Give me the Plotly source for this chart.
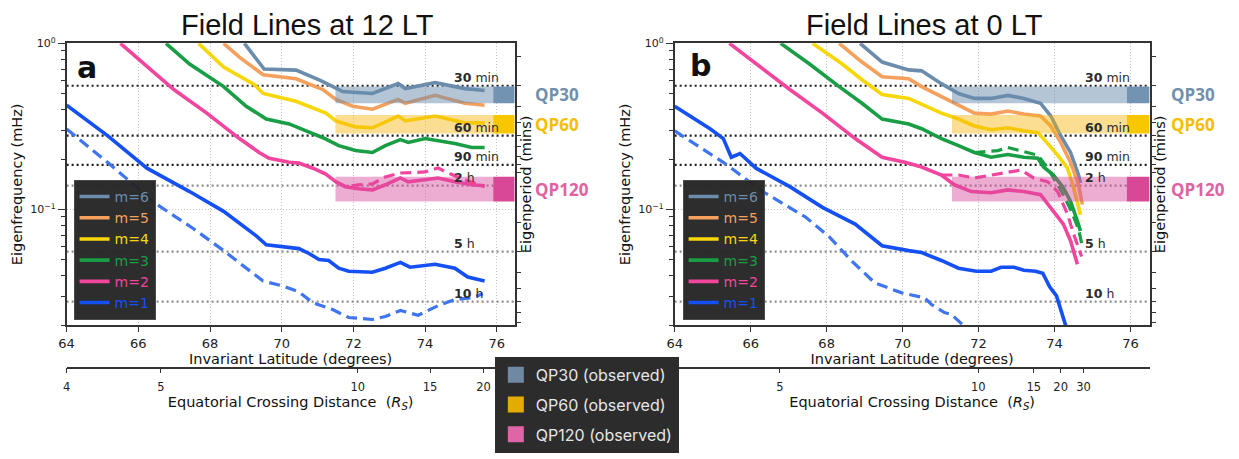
import numpy as np
import plotly.graph_objects as go

# ---------------------------------------------------------------- data
modes = [6, 5, 4, 3, 2, 1]
mode_colors = ["#6b8cab", "#f5a05c", "#f8d70a", "#1a9e45", "#f2459d", "#1550f5"]
m1_dash_color = "#3f74f2"

# ---- Field lines at 12 LT (panel a) : invariant latitude (deg) / eigenfrequency (mHz)
lat12_m6 = [68.96, 69.51, 70.40, 71.09, 71.70, 72.53, 73.25, 73.45, 74.28, 75.11, 75.66]
f12_m6 = [1.0, 0.70, 0.69, 0.596, 0.513, 0.499, 0.572, 0.534, 0.580, 0.534, 0.520]
lat12_m5 = [68.38, 68.82, 69.48, 70.40, 71.15, 71.51, 71.98, 72.53, 73.25, 73.45, 74.28, 75.11, 75.66]
f12_m5 = [1.0, 0.826, 0.647, 0.612, 0.527, 0.460, 0.418, 0.401, 0.460, 0.436, 0.486, 0.436, 0.424]
lat12_m4 = [67.68, 68.38, 69.24, 69.48, 70.40, 71.23, 71.51, 72.06, 72.53, 73.25, 73.45, 74.28, 75.11, 75.66]
f12_m4 = [1.0, 0.721, 0.564, 0.499, 0.448, 0.380, 0.341, 0.314, 0.310, 0.365, 0.341, 0.365, 0.332, 0.332]
lat12_m3 = [66.77, 67.43, 68.38, 69.01, 69.57, 70.21, 70.68, 71.15, 71.59, 72.06, 72.53, 72.89,
            73.31, 73.53, 74.0, 74.83, 75.30, 75.66]
f12_m3 = [1.0, 0.751, 0.549, 0.418, 0.350, 0.327, 0.297, 0.270, 0.242, 0.226, 0.220, 0.242,
          0.263, 0.253, 0.267, 0.249, 0.236, 0.236]
lat12_m2 = [65.50, 66.05, 66.99, 67.91, 68.82, 69.37, 69.65, 70.21, 70.48, 70.87, 71.23, 71.51,
            71.78, 72.14, 72.53, 72.89, 73.31, 73.53, 74.0, 74.36, 74.83, 75.30, 75.66]
f12_m2 = [1.0, 0.793, 0.527, 0.380, 0.267, 0.220, 0.203, 0.192, 0.190, 0.177, 0.163, 0.1465,
          0.137, 0.133, 0.131, 0.1406, 0.1546, 0.1465, 0.150, 0.1546, 0.1465, 0.1406, 0.1387]
lat12_m1 = [64.0, 65.14, 66.24, 67.43, 68.38, 69.29, 69.57, 70.04, 70.48, 70.76, 71.04, 71.31,
            71.59, 71.87, 72.53, 72.89, 73.31, 73.58, 74.28, 74.83, 75.19, 75.66]
f12_m1 = [0.424, 0.278, 0.177, 0.128, 0.0973, 0.0692, 0.0612, 0.0596, 0.0580, 0.0542, 0.0499, 0.0492,
          0.0442, 0.0424, 0.0418, 0.0442, 0.0479, 0.0448, 0.0467, 0.0442, 0.0391, 0.0370]
# dashed variants (12 LT)
lat12_m2d = [71.51, 71.78, 72.14, 72.53, 72.89, 73.31, 74.0, 74.36, 74.64, 75.11, 75.66]
f12_m2d = [0.1465, 0.137, 0.1406, 0.1425, 0.1567, 0.1656, 0.168, 0.1774, 0.1656, 0.1506, 0.137]
lat12_m1d = [64.0, 65.14, 66.52, 67.55, 68.38, 69.48, 70.04, 70.48, 70.87, 71.42, 71.87, 72.53,
             72.89, 73.31, 73.81, 74.36, 74.83, 75.30, 75.61]
f12_m1d = [0.305, 0.192, 0.107, 0.0762, 0.0564, 0.0370, 0.0345, 0.0318, 0.0274, 0.0249, 0.0223, 0.0217,
           0.0226, 0.0246, 0.0230, 0.0263, 0.0286, 0.0293, 0.0310]

# ---- Field lines at 0 LT (panel b)
lat0_m6 = [68.88, 69.46, 70.16, 70.50, 71.02, 71.47, 71.89, 72.33, 72.77, 73.19, 73.63, 73.90,
           74.16, 74.42, 74.63, 74.68]
f0_m6 = [1.0, 0.772, 0.692, 0.683, 0.572, 0.499, 0.466, 0.466, 0.486, 0.466, 0.436, 0.365,
         0.278, 0.220, 0.161, 0.1445]
lat0_m5 = [68.33, 68.93, 69.46, 70.16, 70.50, 71.02, 71.47, 71.89, 72.33, 72.77, 73.19, 73.63,
           73.90, 74.16, 74.42, 74.63, 74.73]
f0_m5 = [1.0, 0.772, 0.629, 0.612, 0.549, 0.479, 0.430, 0.380, 0.375, 0.391, 0.375, 0.365,
         0.318, 0.253, 0.192, 0.1406, 0.107]
lat0_m4 = [67.63, 68.41, 68.93, 69.46, 70.16, 70.50, 71.02, 71.47, 71.89, 72.33, 72.77, 73.19,
           73.56, 73.82, 74.08, 74.34, 74.50, 74.68]
f0_m4 = [1.0, 0.751, 0.604, 0.492, 0.466, 0.430, 0.380, 0.350, 0.318, 0.302, 0.310, 0.297,
         0.290, 0.249, 0.212, 0.177, 0.135, 0.0934]
lat0_m3 = [66.79, 67.55, 68.33, 68.93, 69.46, 70.16, 70.50, 71.02, 71.47, 71.89, 72.33, 72.77,
           73.19, 73.56, 73.71, 73.97, 74.23, 74.42, 74.60, 74.68]
f0_m3 = [1.0, 0.751, 0.549, 0.436, 0.350, 0.327, 0.306, 0.267, 0.242, 0.220, 0.206, 0.214,
         0.206, 0.203, 0.180, 0.161, 0.135, 0.1115, 0.0849, 0.0741]
lat0_m2 = [65.44, 66.14, 67.03, 67.89, 68.75, 69.46, 70.06, 70.50, 71.02, 71.36, 71.81, 72.33,
           72.77, 73.19, 73.63, 73.97, 74.23, 74.42, 74.60]
f0_m2 = [1.0, 0.751, 0.527, 0.380, 0.267, 0.206, 0.192, 0.180, 0.161, 0.1406, 0.128, 0.126,
         0.131, 0.128, 0.1227, 0.0973, 0.0815, 0.0647, 0.0467]
lat0_m1 = [64.0, 64.94, 65.28, 65.49, 65.72, 66.14, 67.03, 67.89, 68.75, 69.46, 70.16, 70.50,
           71.02, 71.47, 71.94, 72.33, 72.59, 72.93, 73.19, 73.50, 73.69, 73.87, 74.05, 74.29, 74.45]
f0_m1 = [0.418, 0.305, 0.267, 0.206, 0.217, 0.177, 0.137, 0.1028, 0.0815, 0.0604, 0.0564, 0.0549,
         0.0492, 0.0442, 0.0424, 0.0424, 0.0448, 0.0448, 0.0430, 0.0424, 0.0412, 0.0341, 0.0301, 0.0200, 0.0180]
# dashed variants (0 LT)
lat0_m4d = [74.50, 74.60, 74.72]
f0_m4d = [0.135, 0.110, 0.0850]
lat0_m3d = [71.89, 72.51, 72.77, 73.11, 73.56, 73.82, 74.16, 74.42, 74.63, 74.73]
f0_m3d = [0.220, 0.226, 0.236, 0.226, 0.212, 0.177, 0.131, 0.100, 0.0762, 0.0596]
lat0_m2d = [71.02, 71.47, 71.89, 72.33, 72.77, 73.11, 73.45, 73.82, 74.08, 74.34, 74.50, 74.71]
f0_m2d = [0.161, 0.161, 0.1546, 0.161, 0.168, 0.1725, 0.1546, 0.1465, 0.128, 0.0934, 0.0711, 0.0520]
lat0_m1d = [64.0, 65.28, 66.32, 67.45, 68.07, 68.67, 69.27, 69.98, 70.58, 70.76, 71.10, 71.28, 71.60, 71.81]
f0_m1d = [0.297, 0.192, 0.128, 0.0897, 0.0683, 0.0486, 0.0360, 0.0314, 0.0293, 0.0267, 0.0239, 0.0233, 0.0200, 0.0182]

# ---- reference periods (minutes)
ref_periods_min = [30, 60, 90, 120, 300, 600]
ref_period_labels = ["<b>30</b> min", "<b>60</b> min", "<b>90</b> min", "<b>2</b> h", "<b>5</b> h", "<b>10</b> h"]
ref_period_dark = [True, True, True, False, False, False]

# ---- observed QP bands (mHz)
qp_names = ["QP30", "QP60", "QP120"]
qp_f_low = [0.435, 0.286, 0.1115]
qp_f_high = [0.549, 0.370, 0.157]
qp_band_start_12 = 71.5
qp_band_start_0 = 71.3
qp_block_start = 75.9
qp_label_colors = ["#7090ae", "#f6be00", "#e062a3"]
qp_light_colors = ["rgba(106,140,174,0.50)", "rgba(247,182,10,0.45)", "rgba(214,72,154,0.45)"]
qp_dark_colors = ["#7393b3", "#f9c700", "#d84896"]
qp_legend_colors = ["#6f89a4", "#e4ac00", "#e064a6"]
qp_legend_names = ["QP30 (observed)", "QP60 (observed)", "QP120 (observed)"]

# ---- axis ticks
lat_ticks = [64, 66, 68, 70, 72, 74, 76]
eig_period_ticks_min = [20, 30, 40, 50, 60, 70, 80, 90, 100, 200, 300, 400, 500, 600, 700, 800]
dist_ticks_12 = ["4", "5", "10", "15", "20"]
dist_lat_12 = [64.0, 66.63, 72.12, 74.14, 75.63]
dist_ticks_0 = ["4", "5", "10", "15", "20", "30"]
dist_lat_0 = [64.0, 66.77, 71.99, 73.45, 74.16, 74.76]

# ---------------------------------------------------------------- build
W, H = 1239, 459
X_MIN, X_MAX = 64.0, 76.5
F_MIN, F_MAX = 0.02, 1.0


def f_of_period(pmin):
    return 1000.0 / (60.0 * pmin)


curves12 = {6: (lat12_m6, f12_m6), 5: (lat12_m5, f12_m5), 4: (lat12_m4, f12_m4),
            3: (lat12_m3, f12_m3), 2: (lat12_m2, f12_m2), 1: (lat12_m1, f12_m1)}
dashed12 = {2: (lat12_m2d, f12_m2d), 1: (lat12_m1d, f12_m1d)}
curves0 = {6: (lat0_m6, f0_m6), 5: (lat0_m5, f0_m5), 4: (lat0_m4, f0_m4),
           3: (lat0_m3, f0_m3), 2: (lat0_m2, f0_m2), 1: (lat0_m1, f0_m1)}
dashed0 = {4: (lat0_m4d, f0_m4d), 3: (lat0_m3d, f0_m3d), 2: (lat0_m2d, f0_m2d),
           1: (lat0_m1d, f0_m1d)}
col_of = dict(zip(modes, mode_colors))

panels = [
    dict(xa="x", ya="y", xs="x3", ys="y3", leg="legend", curves=curves12, dashed=dashed12,
         band_x0=qp_band_start_12),
    dict(xa="x2", ya="y2", xs="x4", ys="y4", leg="legend2", curves=curves0, dashed=dashed0,
         band_x0=qp_band_start_0),
]

fig = go.Figure()
for p in panels:
    # reference period lines
    for per, dark in zip(ref_periods_min, ref_period_dark):
        fr = f_of_period(per)
        fig.add_trace(go.Scatter(
            x=[X_MIN, X_MAX], y=[fr, fr], mode="lines",
            line=dict(color="#1e1e1e" if dark else "#8c8c8c", width=2.2, dash="2px,3px"),
            xaxis=p["xa"], yaxis=p["ya"], showlegend=False, hoverinfo="skip"))
    # solid eigenfrequency curves
    for m in modes:
        lat, fr = p["curves"][m]
        c = col_of[m]
        fig.add_trace(go.Scatter(
            x=lat, y=fr, mode="lines", line=dict(color=c, width=3.6),
            name=f'<span style="color:{c}">m={m}</span>', legend=p["leg"],
            xaxis=p["xa"], yaxis=p["ya"], hoverinfo="skip"))
    # dashed curves
    for m, (lat, fr) in p["dashed"].items():
        c = m1_dash_color if m == 1 else col_of[m]
        fig.add_trace(go.Scatter(
            x=lat, y=fr, mode="lines", line=dict(color=c, width=3.2, dash="11px,6px"),
            xaxis=p["xa"], yaxis=p["ya"], showlegend=False, hoverinfo="skip"))
    # observed QP bands (drawn on top, translucent)
    for lo, hi, lc, dc in zip(qp_f_low, qp_f_high, qp_light_colors, qp_dark_colors):
        x0 = p["band_x0"]
        fig.add_trace(go.Scatter(
            x=[x0, qp_block_start, qp_block_start, x0, x0], y=[lo, lo, hi, hi, lo],
            mode="lines", fill="toself", fillcolor=lc, line=dict(width=0),
            xaxis=p["xa"], yaxis=p["ya"], showlegend=False, hoverinfo="skip"))
        fig.add_trace(go.Scatter(
            x=[qp_block_start, X_MAX, X_MAX, qp_block_start, qp_block_start], y=[lo, lo, hi, hi, lo],
            mode="lines", fill="toself", fillcolor=dc, line=dict(width=0),
            xaxis=p["xa"], yaxis=p["ya"], showlegend=False, hoverinfo="skip"))
    # placeholder so the secondary axes are realised
    fig.add_trace(go.Scatter(x=[None], y=[None], xaxis=p["xs"], yaxis=p["ys"],
                             showlegend=False, hoverinfo="skip"))

# observed-QP legend entries
for i, (nm, c) in enumerate(zip(qp_legend_names, qp_legend_colors)):
    fig.add_trace(go.Scatter(
        x=[None], y=[None], mode="markers",
        marker=dict(symbol="square", size=18, color=c, line=dict(width=0)),
        name=nm, legend="legend3", legendgroup=f"qp{i}", xaxis="x", yaxis="y"))

# ---------------------------------------------------------------- layout
line_col = "#333333"
tick_font = dict(family="DejaVu Sans", size=13, color="#222")
small_tick_font = dict(family="DejaVu Sans", size=11.5, color="#222")
atitle_font = dict(family="DejaVu Sans", size=14.5, color="#111")
ydom = [1 - 323 / H, 1 - 36 / H]
xdoms = [[59 / W, 510 / W], [671 / W, 1149 / W]]
yrange = [np.log10(F_MIN), np.log10(F_MAX)]
minor_f = [k * 0.01 for k in range(2, 10)] + [k * 0.1 for k in range(2, 10)]
minor_f = [v for v in minor_f if v >= F_MIN]
period_tickvals = [f_of_period(pm) for pm in eig_period_ticks_min]


def x_main(dom, anchor):
    return dict(domain=dom, range=[X_MIN, X_MAX], anchor=anchor, tickvals=lat_ticks,
                ticks="outside", ticklen=5, tickwidth=1.2, tickcolor=line_col,
                showline=True, linecolor=line_col, linewidth=1.5, mirror=True,
                showgrid=True, gridcolor="#c4c4c4", griddash="1px,2px", gridwidth=1,
                zeroline=False, tickfont=tick_font,
                title=dict(text="Invariant Latitude (degrees)", font=atitle_font, standoff=3))


def y_main(anchor):
    return dict(domain=ydom, type="log", range=yrange, anchor=anchor,
                tickvals=[0.1, 1.0], ticktext=["10<sup>−1</sup>", "10<sup>0</sup>"],
                ticks="outside", ticklen=7, tickwidth=1.2, tickcolor=line_col,
                minor=dict(tickvals=minor_f, ticks="outside", ticklen=4, tickcolor=line_col,
                           showgrid=False),
                showline=True, linecolor=line_col, linewidth=1.5, mirror=True,
                showgrid=True, gridcolor="#c4c4c4", griddash="1px,2px", gridwidth=1,
                zeroline=False, tickfont=dict(family="DejaVu Sans", size=11, color="#222"),
                title=dict(text="Eigenfrequency (mHz)", font=atitle_font, standoff=4))


def y_period(over, anchor):
    return dict(overlaying=over, side="right", anchor=anchor, type="log", range=yrange,
                tickvals=period_tickvals, ticks="outside", ticklen=5, tickwidth=1.2,
                tickcolor=line_col, showticklabels=False, showgrid=False, zeroline=False,
                showline=True, linecolor=line_col, linewidth=1.5,
                title=dict(text="Eigenperiod (mins)", font=atitle_font, standoff=0))


def x_dist(over, vals, texts):
    return dict(overlaying=over, anchor="free", position=1 - 366 / H, side="bottom",
                range=[X_MIN, X_MAX], tickvals=vals, ticktext=texts, ticks="outside",
                ticklen=5, tickwidth=1.2, tickcolor=line_col, showline=True,
                linecolor=line_col, linewidth=1.5, showgrid=False, zeroline=False,
                tickfont=small_tick_font, ticklabelstandoff=4,
                title=dict(text="Equatorial Crossing Distance  (<i>R</i><sub><i>S</i></sub>)",
                           font=atitle_font, standoff=3))


m_legend = dict(xanchor="left", yanchor="top", bgcolor="rgba(36,36,36,0.96)",
                bordercolor="#4a4a4a", borderwidth=1,
                font=dict(family="DejaVu Sans", size=14, color="#ddd"),
                itemwidth=30, tracegroupgap=0)

annotations = []
# panel titles
for txt, xc in [("Field Lines at 12 LT", 301 / W), ("Field Lines at 0 LT", 922 / W)]:
    annotations.append(dict(text=txt, x=xc, y=1 - 17 / H, xref="paper", yref="paper",
                            xanchor="center", yanchor="middle", showarrow=False,
                            font=dict(family="Liberation Sans", size=29, color="#111")))
# panel letters
for txt, xc, yc in [("a", 80 / W, 1 - 61 / H), ("b", 697 / W, 1 - 59 / H)]:
    annotations.append(dict(text=f"<b>{txt}</b>", x=xc, y=yc, xref="paper", yref="paper",
                            xanchor="center", yanchor="middle", showarrow=False,
                            font=dict(family="DejaVu Sans", size=30, color="#111")))
# period labels and QP labels
for p, qx in zip(panels, [528 / W, 1169 / W]):
    for per, lab in zip(ref_periods_min, ref_period_labels):
        annotations.append(dict(text=lab, x=74.78, y=np.log10(f_of_period(per)),
                                xref=p["xa"], yref=p["ya"], xanchor="left", yanchor="bottom",
                                showarrow=False, borderpad=0,
                                font=dict(family="DejaVu Sans", size=12.5, color="#2b2b2b")))
    for nm, lo, hi, c in zip(qp_names, qp_f_low, qp_f_high, qp_label_colors):
        annotations.append(dict(text=f"<b>{nm}</b>", x=qx, y=np.log10(np.sqrt(lo * hi)),
                                xref="paper", yref=p["ya"], xanchor="left", yanchor="middle",
                                showarrow=False,
                                font=dict(family="Open Sans", size=17, color=c)))

fig.update_layout(
    width=W, height=H, margin=dict(l=0, r=0, t=0, b=0),
    paper_bgcolor="white", plot_bgcolor="white",
    xaxis=x_main(xdoms[0], "y"), yaxis=y_main("x"),
    xaxis2=x_main(xdoms[1], "y2"), yaxis2=y_main("x2"),
    yaxis3=y_period("y", "x"), yaxis4=y_period("y2", "x2"),
    xaxis3=x_dist("x", dist_lat_12, dist_ticks_12),
    xaxis4=x_dist("x2", dist_lat_0, dist_ticks_0),
    legend=dict(m_legend, x=66 / W, y=1 - 175 / H),
    legend2=dict(m_legend, x=679 / W, y=1 - 175 / H),
    legend3=dict(x=490 / W, y=1 - 355 / H, xanchor="left", yanchor="top",
                 bgcolor="#2c2c2c", bordercolor="#2c2c2c", borderwidth=1,
                 font=dict(family="Inter", size=16, color="#e6e6e6"),
                 itemwidth=30, tracegroupgap=6),
    annotations=annotations,
    hovermode=False,
)

fig.write_html("out.html",
               post_script="document.body.style.margin='0px';document.body.style.padding='0px';")
